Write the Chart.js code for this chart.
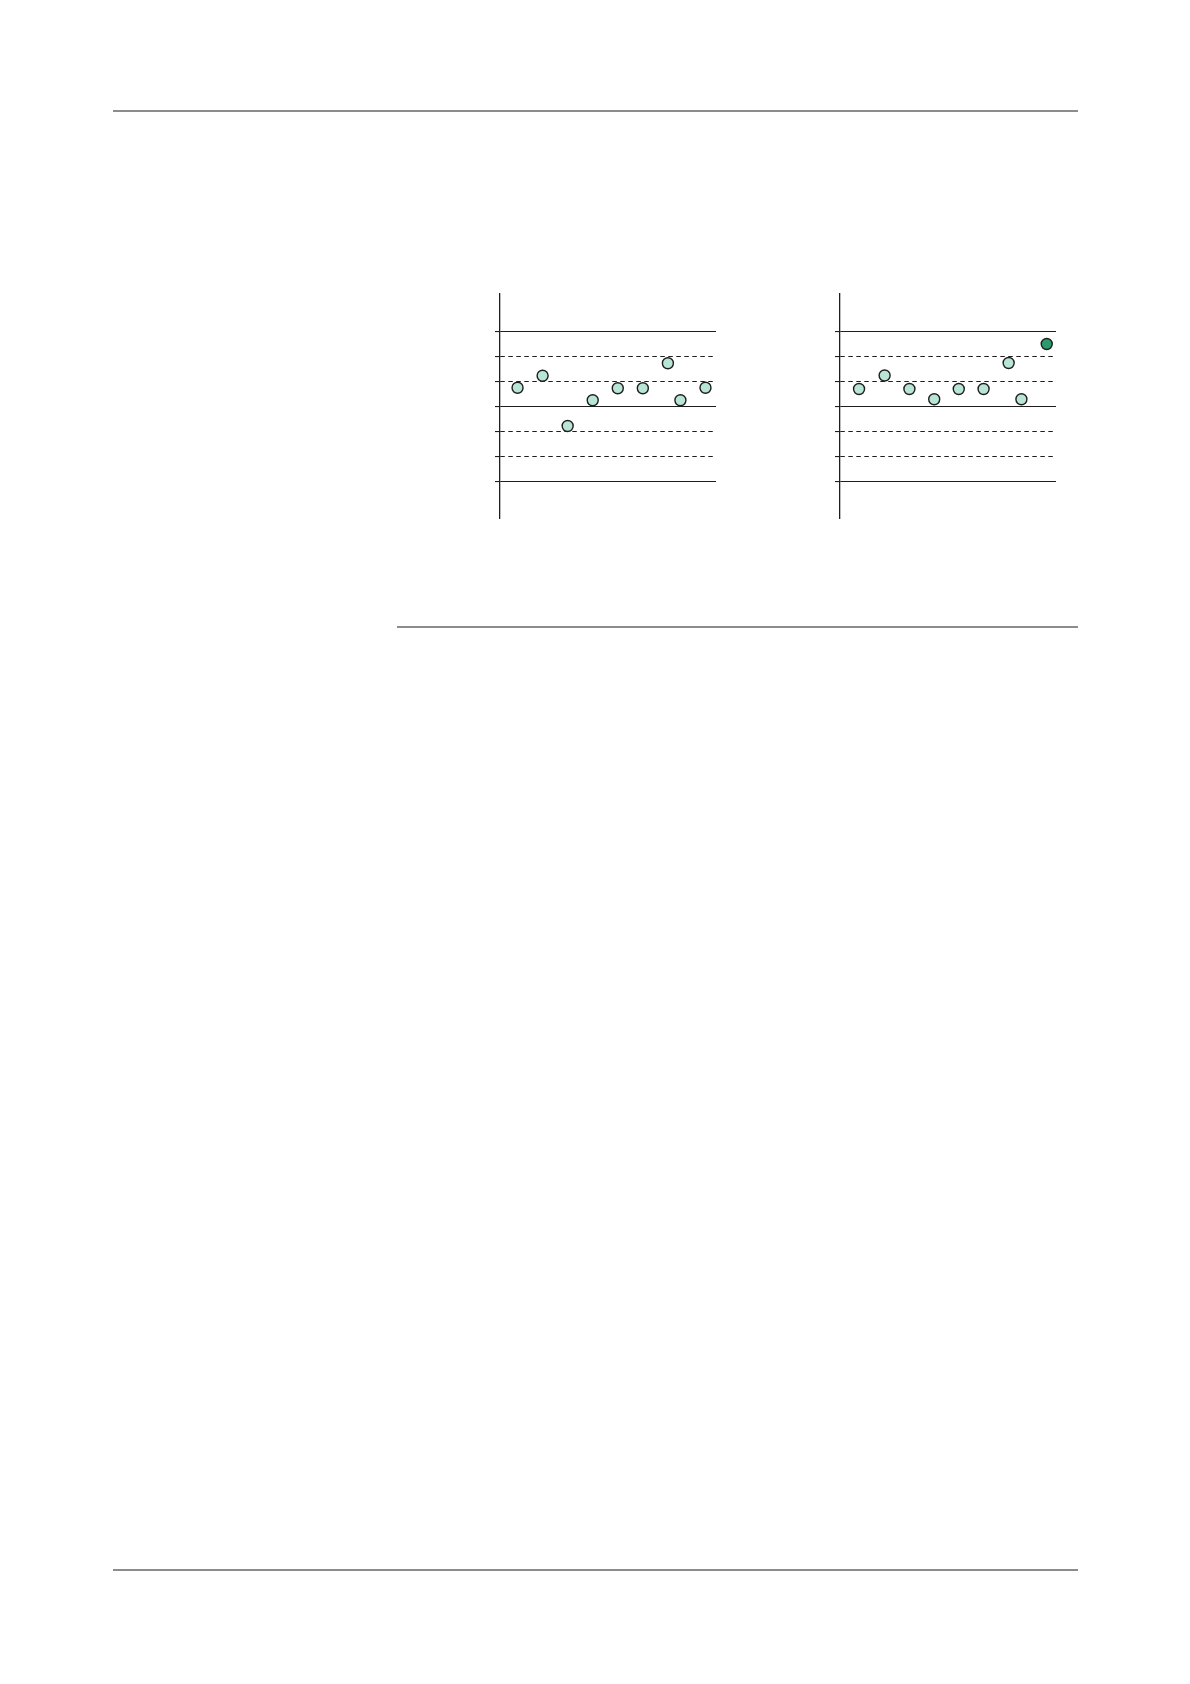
<!DOCTYPE html>
<html>
<head>
<meta charset="utf-8">
<script src="https://cdn.jsdelivr.net/npm/chart.js@4/dist/chart.umd.min.js"></script>
<style>
    html, body { margin: 0; padding: 0; background: #fff; }
    body { width: 1190px; height: 1684px; position: relative; overflow: hidden; font-family: "Noto Sans", sans-serif; }
    .rule { position: absolute; height: 1.5px; background: #8c8c8c; }
    .plot { position: absolute; top: 290px; width: 230px; height: 233px; }
</style>
</head>
<body>
<div class="rule" style="left:113px; top:110px; width:965px;"></div>
<div class="rule" style="left:397px; top:626px; width:681px;"></div>
<div class="rule" style="left:113px; top:1569px; width:965px;"></div>

<div class="plot" style="left:490px;"><canvas id="chart-before"></canvas></div>
<div class="plot" style="left:830px;"><canvas id="chart-after"></canvas></div>

<script>
// run positions along the horizontal axis (one unit = one sample step)
var beforeX = [0.7, 1.7, 2.7, 3.7, 4.7, 5.7, 6.7, 7.2, 8.2];
var beforeY = [0.75, 1.23, -0.78, 0.25, 0.73, 0.73, 1.73, 0.25, 0.75];

var afterX = [0.76, 1.78, 2.77, 3.76, 4.74, 5.73, 6.73, 7.24, 8.25];
var afterY = [0.7, 1.24, 0.7, 0.29, 0.7, 0.7, 1.74, 0.29, 2.5];
// index of the highlighted (dark) point in each panel, -1 for none
var beforeMark = -1;
var afterMark = 8;

// reference lines: centre and +/-3 solid, the rest dashed
var levels = [-3, -2, -1, 0, 1, 2, 3];
var solidLevels = [-3, 0, 3];

(function () {
    var ink = '#1e1e1e';
    var mint = '#b8e5d5';
    var green = '#2b9a6d';

    Chart.defaults.animation = false;

    // v4 reads the grid line dash from border.dash, per tick context
    function dashFor(ctx) {
        if (!ctx.tick) return [];
        return solidLevels.indexOf(ctx.tick.value) >= 0 ? [] : [4.5, 3.5];
    }

    function panel(id, xs, ys, mark) {
        var el = document.getElementById(id);
        var pts = xs.map(function (x, i) { return { x: x, y: ys[i] }; });
        new Chart(el, {
            type: 'scatter',
            data: {
                datasets: [{
                    data: pts,
                    pointRadius: 5.5,
                    pointHoverRadius: 5.5,
                    pointBorderWidth: 1.4,
                    pointBorderColor: ink,
                    pointBackgroundColor: function (ctx) {
                        return ctx.dataIndex === mark ? green : mint;
                    },
                    clip: false
                }]
            },
            options: {
                responsive: true,
                maintainAspectRatio: false,
                layout: { autoPadding: false, padding: { left: 5, right: 4, top: 4, bottom: 4 } },
                plugins: { legend: { display: false }, tooltip: { enabled: false } },
                scales: {
                    x: { type: 'linear', min: 0, max: 8.62, display: false },
                    y: {
                        type: 'linear',
                        min: -4.5,
                        max: 4.5,
                        afterBuildTicks: function (s) {
                            s.ticks = levels.map(function (v) { return { value: v }; });
                        },
                        ticks: { display: false },
                        border: { display: true, color: ink, width: 1.3, dash: dashFor },
                        grid: {
                            color: ink,
                            lineWidth: 1.1,
                            tickLength: 5,
                            tickColor: ink,
                            tickWidth: 1.1,
                            tickBorderDash: []
                        }
                    }
                }
            }
        });
    }

    panel('chart-before', beforeX, beforeY, beforeMark);
    panel('chart-after', afterX, afterY, afterMark);
})();
</script>
</body>
</html>
